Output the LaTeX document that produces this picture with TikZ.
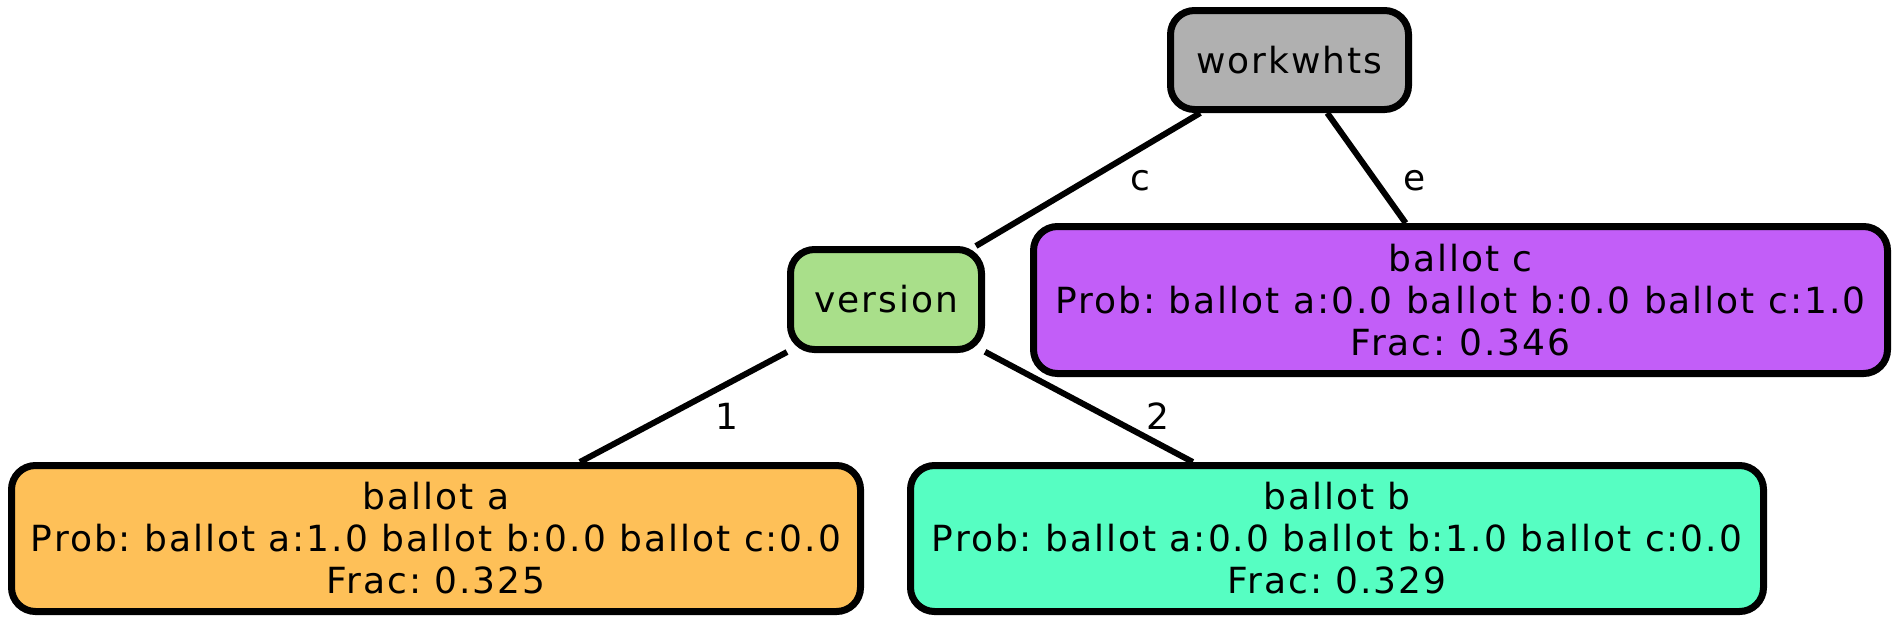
\documentclass[tikz,border=0pt]{standalone}
\usepackage{fontspec}
\setmainfont{DejaVu Sans}[LetterSpace=5.5]
\usetikzlibrary{backgrounds}
\definecolor{cgray}{HTML}{B0B0B0}
\definecolor{cgreen}{HTML}{A9DF8A}
\definecolor{cpurple}{HTML}{C25EF8}
\definecolor{corange}{HTML}{FEC058}
\definecolor{cmint}{HTML}{56FEC2}
\frenchspacing
\tikzset{
  treebox/.style={draw=black, line width=7pt, rounded corners=24pt, inner sep=0pt,
    align=center, font=\fontsize{36}{42}\selectfont},
  treeedge/.style={line width=6pt, black},
  edgelabel/.style={anchor=base, inner sep=0pt, font=\fontsize{36}{42}\selectfont}
}
\begin{document}
\begin{tikzpicture}[x=1pt, y=-1pt]
\path[use as bounding box] (0,0) rectangle (1894,625);
\node[treebox, fill=cgray, minimum width=238pt, minimum height=99pt] (workwhts) at (1289.5,60) {workwhts};
\node[treebox, fill=cgreen, minimum width=191pt, minimum height=100pt] (version) at (886,299.5) {version};
\node[treebox, fill=cpurple, minimum width=854pt, minimum height=147pt] (ballotc) at (1460.5,300) {ballot c\\Prob: ballot a:0.0 ballot b:0.0 ballot c:1.0\\Frac: 0.346};
\node[treebox, fill=corange, minimum width=849pt, minimum height=146pt] (ballota) at (436,538.5) {ballot a\\Prob: ballot a:1.0 ballot b:0.0 ballot c:0.0\\Frac: 0.325};
\node[treebox, fill=cmint, minimum width=853pt, minimum height=146pt] (ballotb) at (1337,538.5) {ballot b\\Prob: ballot a:0.0 ballot b:1.0 ballot c:0.0\\Frac: 0.329};
\begin{pgfonlayer}{background}
\draw[treeedge] (workwhts) -- (version);
\draw[treeedge] (workwhts) -- (ballotc);
\draw[treeedge] (version) -- (ballota);
\draw[treeedge] (version) -- (ballotb);
\end{pgfonlayer}
\node[edgelabel] (lc) at (1140,190) {c};
\node[edgelabel] (le) at (1415,190) {e};
\node[edgelabel] (l1) at (727,429) {1};
\node[edgelabel] (l2) at (1158,429) {2};
\end{tikzpicture}
\end{document}
